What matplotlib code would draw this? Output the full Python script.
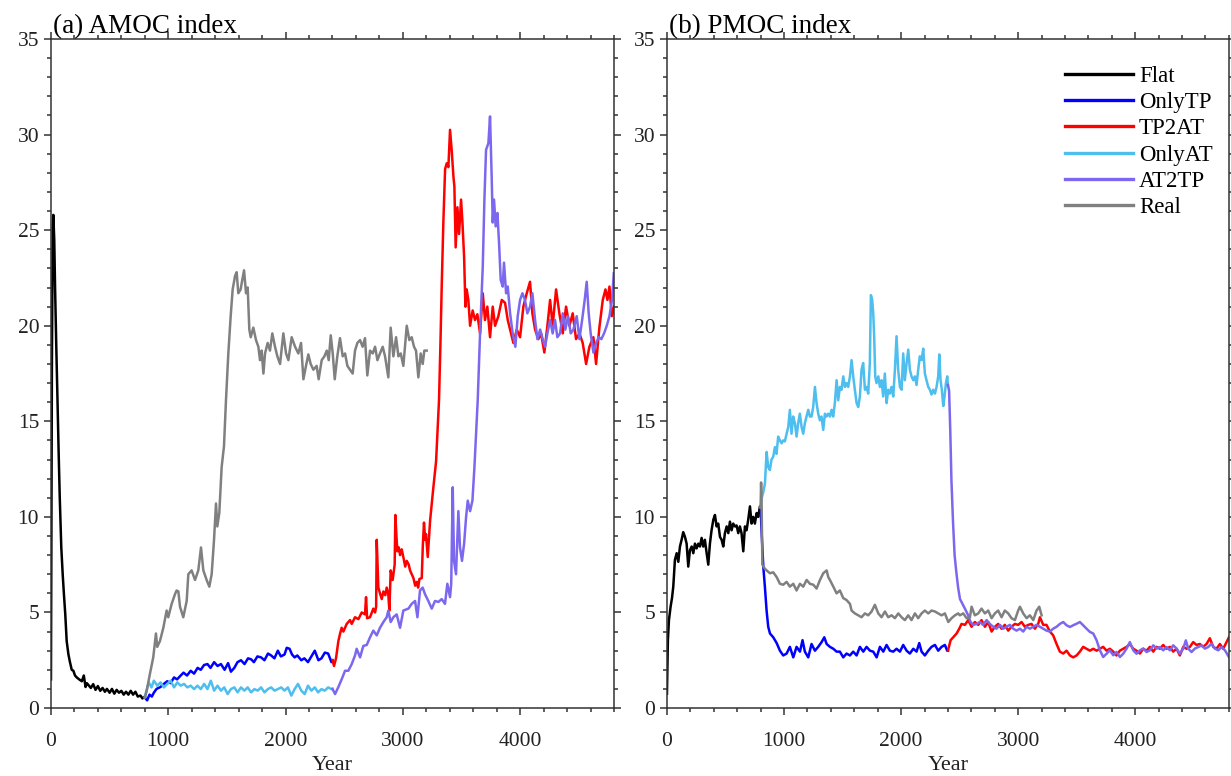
import matplotlib
matplotlib.use("Agg")
import matplotlib.pyplot as plt
from matplotlib.ticker import MultipleLocator

plt.rcParams['font.family'] = ['Liberation Serif', 'DejaVu Serif']

# ---- (a) AMOC index: (year, Sv) pairs ----
flat_a = [(0, 1.5), (8, 18.0), (15, 25.0), (20, 25.8), (28, 24.5), (35, 22.0), (45, 19.0),
          (55, 16.3), (65, 13.5), (75, 11.0), (88, 8.4), (100, 7.0), (110, 6.0), (122, 4.9),
          (134, 3.5), (149, 2.8), (162, 2.4), (177, 2.0), (191, 1.95), (205, 1.7), (220, 1.6),
          (240, 1.5), (263, 1.4), (280, 1.7), (295, 1.1), (306, 1.3), (320, 1.2), (340, 1.05),
          (360, 1.25), (380, 0.95), (400, 1.15), (420, 0.9), (440, 1.05), (460, 0.85), (477, 1.0),
          (500, 0.8), (520, 1.0), (540, 0.75), (560, 0.95), (580, 0.8), (600, 0.9), (620, 0.7),
          (640, 0.85), (660, 0.7), (680, 0.9), (700, 0.7), (720, 0.85), (740, 0.6), (763, 0.65),
          (780, 0.5), (800, 0.6)]

onlytp_a = [(800, 0.55), (820, 0.4), (840, 0.7), (860, 0.6), (877, 0.8), (900, 1.0), (934, 1.1),
            (960, 1.25), (991, 1.4), (1020, 1.3), (1049, 1.6), (1075, 1.5), (1106, 1.7), (1130, 1.85),
            (1160, 1.7), (1191, 1.95), (1220, 1.8), (1250, 2.1), (1277, 2.0), (1305, 2.25), (1334, 2.3),
            (1360, 2.1), (1391, 2.4), (1420, 2.2), (1449, 2.3), (1480, 2.0), (1510, 2.35), (1534, 1.9),
            (1563, 2.1), (1590, 2.4), (1620, 2.5), (1650, 2.3), (1680, 2.6), (1706, 2.55), (1730, 2.4),
            (1760, 2.7), (1791, 2.65), (1820, 2.5), (1850, 2.85), (1877, 2.75), (1905, 2.6), (1934, 3.0),
            (1960, 2.7), (1991, 2.8), (2010, 3.15), (2034, 3.1), (2055, 2.8), (2077, 2.65), (2100, 2.75),
            (2134, 2.5), (2160, 2.6), (2191, 2.4), (2220, 2.7), (2249, 3.0), (2280, 2.5), (2306, 2.6),
            (2335, 2.9), (2363, 2.85), (2391, 2.4), (2400, 2.5)]

tp2at_a = [(2400, 2.5), (2413, 2.2), (2430, 2.6), (2450, 3.5), (2465, 3.9), (2478, 4.2), (2493, 4.0),
           (2521, 4.4), (2550, 4.6), (2564, 4.4), (2592, 4.75), (2621, 4.65), (2649, 5.0), (2677, 4.9),
           (2686, 5.8), (2695, 4.7), (2720, 4.75), (2748, 5.2), (2763, 5.0), (2772, 5.3), (2777, 8.8),
           (2784, 7.5), (2791, 6.3), (2805, 6.0), (2820, 5.7), (2834, 6.1), (2850, 5.9), (2862, 6.3),
           (2875, 6.0), (2885, 5.1), (2896, 7.2), (2913, 6.7), (2930, 7.5), (2936, 10.1), (2945, 9.0),
           (2953, 8.2), (2965, 8.4), (2976, 8.0), (2990, 8.3), (3004, 7.9), (3020, 7.4), (3033, 7.7),
           (3050, 7.5), (3061, 7.2), (3075, 7.0), (3090, 6.8), (3105, 6.4), (3118, 6.6), (3130, 6.3),
           (3141, 6.75), (3161, 6.8), (3170, 8.5), (3180, 9.7), (3190, 8.8), (3197, 9.1), (3212, 7.9),
           (3232, 9.8), (3246, 10.7), (3260, 11.55), (3283, 12.9), (3294, 14.3), (3308, 16.1),
           (3320, 19.0), (3331, 22.05), (3345, 25.4), (3360, 28.2), (3374, 28.5), (3388, 28.3),
           (3402, 30.25), (3416, 29.2), (3431, 27.8), (3439, 27.3), (3450, 24.1), (3465, 26.2),
           (3479, 24.8), (3496, 26.6), (3507, 25.5), (3522, 23.6), (3533, 21.0), (3544, 21.9),
           (3558, 21.35), (3573, 20.0), (3595, 20.8), (3615, 20.3), (3635, 20.6), (3658, 19.6),
           (3681, 21.7), (3700, 20.3), (3720, 21.0), (3743, 19.4), (3766, 21.0), (3786, 20.0),
           (3814, 20.5), (3843, 21.35), (3871, 21.2), (3894, 20.3), (3914, 19.8), (3942, 19.1),
           (3971, 19.8), (3999, 19.4), (4027, 21.0), (4056, 21.7), (4084, 22.3), (4104, 20.65),
           (4127, 19.8), (4155, 19.3), (4178, 19.6), (4206, 18.6), (4232, 20.0), (4255, 21.35),
           (4277, 20.0), (4306, 21.9), (4334, 20.65), (4363, 19.6), (4391, 21.0), (4420, 20.0),
           (4448, 20.65), (4476, 19.3), (4505, 19.6), (4533, 19.1), (4562, 18.0), (4590, 18.9),
           (4624, 19.4), (4647, 18.0), (4675, 19.9), (4704, 21.35), (4727, 21.9), (4744, 21.35),
           (4761, 22.05), (4781, 20.5), (4800, 21.0)]

onlyat_a = [(800, 0.56), (814, 0.91), (834, 1.34), (857, 1.08), (877, 1.43), (906, 1.17), (934, 1.34),
            (963, 1.08), (991, 1.26), (1020, 1.43), (1049, 1.08), (1077, 1.34), (1106, 1.17), (1134, 1.26),
            (1163, 1.08), (1191, 1.17), (1220, 0.99), (1249, 1.17), (1277, 0.99), (1306, 1.26),
            (1334, 0.99), (1363, 1.43), (1391, 0.91), (1420, 1.17), (1449, 0.91), (1477, 1.08),
            (1506, 0.73), (1534, 0.99), (1563, 1.08), (1591, 0.82), (1620, 1.08), (1649, 0.91),
            (1677, 1.08), (1706, 0.82), (1734, 0.99), (1763, 0.91), (1791, 1.08), (1820, 0.82),
            (1849, 0.99), (1877, 1.08), (1906, 0.91), (1934, 0.99), (1963, 1.08), (1991, 0.91),
            (2020, 1.08), (2049, 0.65), (2077, 0.99), (2106, 1.26), (2134, 0.91), (2163, 0.73),
            (2191, 1.17), (2220, 0.91), (2249, 1.08), (2277, 0.82), (2306, 0.99), (2334, 0.91),
            (2363, 1.08), (2391, 0.99), (2400, 1.0)]

at2tp_a = [(2400, 1.0), (2422, 0.73), (2450, 1.1), (2478, 1.5), (2507, 1.95), (2535, 1.95), (2564, 2.3),
           (2592, 2.75), (2606, 3.1), (2635, 2.65), (2663, 3.25), (2692, 3.3), (2720, 3.7), (2748, 4.05),
           (2777, 3.8), (2805, 4.2), (2834, 4.5), (2862, 4.75), (2876, 5.1), (2896, 4.5), (2919, 4.75),
           (2947, 4.9), (2976, 4.2), (3004, 5.1), (3047, 5.2), (3075, 5.45), (3104, 5.6), (3124, 4.75),
           (3146, 6.15), (3169, 6.3), (3189, 5.95), (3217, 5.6), (3246, 5.2), (3274, 5.6), (3303, 5.55),
           (3331, 5.7), (3359, 5.45), (3379, 6.5), (3402, 5.8), (3412, 6.5), (3425, 11.55), (3436, 7.7),
           (3453, 7.0), (3473, 10.3), (3487, 8.4), (3504, 7.7), (3522, 8.6), (3539, 10.0), (3553, 10.85),
           (3573, 10.3), (3593, 10.85), (3610, 12.6), (3624, 14.35), (3638, 16.1), (3658, 19.6),
           (3681, 23.1), (3695, 26.6), (3709, 29.2), (3729, 29.55), (3743, 30.95), (3757, 27.8),
           (3766, 25.4), (3777, 26.6), (3791, 25.2), (3806, 25.9), (3820, 24.3), (3834, 22.4),
           (3851, 22.05), (3862, 23.3), (3880, 21.7), (3894, 22.05), (3914, 20.65), (3936, 19.6),
           (3959, 18.9), (3979, 20.5), (3999, 21.35), (4019, 21.7), (4041, 21.35), (4061, 20.65),
           (4084, 21.0), (4104, 21.7), (4127, 20.3), (4147, 19.3), (4170, 19.8), (4192, 19.3),
           (4212, 18.9), (4232, 19.6), (4255, 20.3), (4277, 19.6), (4297, 20.3), (4317, 19.4),
           (4340, 19.6), (4363, 20.65), (4385, 19.8), (4408, 20.5), (4431, 19.6), (4454, 19.8),
           (4482, 20.5), (4505, 19.3), (4528, 20.3), (4550, 21.35), (4567, 22.3), (4584, 20.65),
           (4601, 19.6), (4624, 18.6), (4647, 19.1), (4670, 19.4), (4692, 19.3), (4715, 19.6),
           (4738, 20.0), (4761, 20.5), (4783, 21.35), (4798, 22.75)]

real_a = [(800, 0.55), (816, 0.9), (844, 1.8), (872, 2.65), (895, 3.9), (906, 3.2), (929, 3.5),
          (958, 4.2), (986, 5.1), (1000, 4.75), (1029, 5.45), (1057, 5.95), (1071, 6.15), (1086, 6.1),
          (1100, 5.3), (1128, 4.75), (1157, 5.6), (1171, 7.0), (1199, 7.2), (1228, 6.7), (1256, 7.2),
          (1279, 8.4), (1299, 7.2), (1327, 6.7), (1350, 6.35), (1370, 7.0), (1390, 8.8), (1407, 10.7),
          (1418, 9.5), (1435, 10.2), (1455, 12.6), (1475, 13.7), (1492, 16.1), (1512, 18.55),
          (1532, 20.5), (1549, 21.9), (1569, 22.6), (1583, 22.8), (1597, 21.7), (1617, 21.9),
          (1631, 22.4), (1646, 22.9), (1663, 21.7), (1677, 22.0), (1691, 19.8), (1703, 19.4),
          (1725, 19.9), (1748, 19.25), (1768, 18.9), (1782, 18.2), (1796, 18.7), (1811, 17.5),
          (1825, 18.55), (1847, 19.1), (1867, 18.7), (1887, 19.6), (1910, 18.9), (1930, 18.4),
          (1953, 18.0), (1981, 19.6), (2004, 18.55), (2024, 18.2), (2052, 19.4), (2081, 18.9),
          (2109, 18.55), (2132, 19.1), (2152, 17.2), (2174, 17.9), (2194, 18.5), (2214, 18.0),
          (2237, 17.7), (2265, 17.9), (2282, 17.2), (2308, 18.2), (2331, 18.4), (2351, 18.7),
          (2368, 18.2), (2385, 19.5), (2402, 18.55), (2419, 17.2), (2441, 18.4), (2464, 19.35),
          (2487, 18.4), (2507, 18.55), (2527, 17.9), (2549, 17.7), (2572, 17.5), (2592, 18.7),
          (2612, 19.1), (2635, 19.25), (2657, 18.9), (2677, 19.35), (2697, 17.4), (2720, 18.7),
          (2743, 18.55), (2763, 18.9), (2783, 18.2), (2805, 18.55), (2828, 18.9), (2848, 18.4),
          (2876, 17.3), (2896, 19.9), (2919, 18.4), (2942, 19.4), (2962, 18.4), (2982, 18.55),
          (3004, 17.9), (3033, 20.0), (3055, 19.25), (3075, 19.4), (3095, 18.9), (3112, 18.7),
          (3132, 17.3), (3152, 18.55), (3169, 18.0), (3183, 18.7), (3203, 18.7)]

# ---- (b) PMOC index ----
flat_b = [(0, 0.75), (8, 3.55), (17, 4.6), (31, 5.3), (43, 5.75), (54, 6.35), (68, 7.75), (83, 8.1),
          (97, 7.65), (111, 8.45), (125, 8.8), (139, 9.2), (154, 8.95), (168, 8.6), (182, 7.4),
          (196, 8.25), (211, 8.45), (225, 8.1), (239, 8.6), (253, 8.35), (268, 8.6), (282, 8.45),
          (296, 8.9), (310, 8.45), (324, 8.8), (339, 8.1), (353, 7.5), (367, 8.6), (381, 9.3),
          (396, 9.85), (410, 10.1), (424, 9.5), (438, 9.65), (453, 8.95), (467, 8.8), (481, 8.45),
          (495, 9.15), (510, 9.5), (524, 9.15), (538, 9.75), (552, 9.3), (566, 9.65), (581, 9.5),
          (595, 9.55), (609, 9.15), (623, 9.5), (637, 9.15), (652, 8.2), (666, 9.5), (680, 9.3),
          (694, 9.85), (709, 10.55), (723, 9.65), (737, 10.0), (751, 9.65), (766, 10.2), (780, 10.0),
          (794, 10.55), (800, 10.5)]

onlytp_b = [(800, 10.5), (810, 9.0), (823, 7.4), (837, 6.3), (851, 5.1), (865, 4.25), (880, 3.9),
            (908, 3.7), (937, 3.4), (965, 3.0), (993, 2.75), (1022, 2.85), (1050, 3.2), (1079, 2.65),
            (1107, 3.2), (1136, 2.95), (1158, 3.55), (1178, 2.95), (1207, 2.65), (1235, 3.35),
            (1264, 3.0), (1292, 3.2), (1321, 3.45), (1344, 3.7), (1364, 3.35), (1392, 3.2), (1421, 3.1),
            (1449, 2.95), (1477, 2.95), (1506, 2.65), (1534, 2.85), (1563, 2.75), (1591, 2.95),
            (1620, 2.75), (1648, 3.2), (1677, 2.95), (1705, 3.2), (1734, 3.0), (1762, 2.95),
            (1791, 2.65), (1819, 3.2), (1848, 2.95), (1876, 3.3), (1904, 3.0), (1933, 2.95),
            (1961, 3.1), (1990, 2.95), (2018, 3.3), (2047, 3.0), (2075, 2.85), (2104, 3.1),
            (2132, 2.95), (2155, 3.4), (2175, 2.95), (2203, 2.75), (2232, 3.0), (2260, 3.2),
            (2289, 3.3), (2317, 3.0), (2346, 3.2), (2374, 3.3), (2394, 3.0), (2400, 3.0)]

tp2at_b = [(2400, 3.0), (2423, 3.55), (2445, 3.7), (2474, 3.9), (2497, 4.15), (2516, 4.4), (2545, 4.35),
           (2573, 4.6), (2602, 4.25), (2630, 4.5), (2659, 4.35), (2687, 4.6), (2716, 4.25), (2744, 4.5),
           (2773, 4.0), (2801, 4.25), (2829, 4.4), (2858, 4.15), (2886, 4.35), (2915, 4.05),
           (2943, 4.25), (2972, 4.4), (3000, 4.35), (3029, 4.5), (3057, 4.25), (3086, 4.35),
           (3114, 4.4), (3143, 4.15), (3171, 4.4), (3186, 4.75), (3214, 4.35), (3242, 4.35),
           (3271, 4.0), (3299, 3.8), (3328, 3.35), (3356, 2.95), (3385, 2.85), (3413, 3.0),
           (3442, 2.75), (3470, 2.65), (3499, 2.75), (3527, 2.95), (3555, 3.2), (3584, 3.1),
           (3613, 3.0), (3641, 3.1), (3670, 3.0), (3698, 3.1), (3726, 3.2), (3755, 3.0), (3783, 3.1),
           (3812, 2.95), (3840, 2.75), (3869, 3.0), (3897, 3.1), (3926, 3.2), (3954, 3.35),
           (3983, 3.1), (4011, 3.0), (4040, 2.85), (4068, 3.1), (4097, 3.0), (4125, 3.2), (4154, 2.95),
           (4182, 3.2), (4210, 3.1), (4239, 3.3), (4267, 3.1), (4296, 3.2), (4324, 2.95), (4353, 3.1),
           (4381, 2.75), (4410, 3.2), (4438, 3.1), (4467, 3.2), (4495, 3.45), (4523, 3.3), (4552, 3.35),
           (4580, 3.2), (4609, 3.35), (4637, 3.65), (4666, 3.2), (4694, 3.1), (4723, 3.35),
           (4751, 3.1), (4780, 3.45), (4800, 3.7)]

onlyat_b = [(800, 10.5), (810, 11.0), (823, 11.3), (837, 11.75), (851, 13.4), (865, 12.6), (879, 12.45),
            (893, 13.0), (908, 13.15), (922, 13.65), (936, 13.3), (950, 14.2), (965, 14.0), (979, 13.85),
            (993, 14.0), (1007, 13.95), (1022, 14.35), (1036, 14.7), (1050, 15.6), (1064, 14.35),
            (1078, 15.25), (1093, 14.9), (1107, 14.2), (1121, 14.9), (1135, 15.4), (1150, 14.7),
            (1164, 14.35), (1178, 14.9), (1192, 15.25), (1207, 15.6), (1221, 15.25), (1235, 15.25),
            (1249, 15.75), (1264, 16.8), (1278, 15.95), (1292, 15.4), (1306, 15.05), (1320, 15.25),
            (1335, 14.55), (1349, 15.4), (1363, 15.25), (1377, 15.4), (1392, 15.25), (1406, 15.6),
            (1420, 15.25), (1434, 15.95), (1449, 17.15), (1463, 16.1), (1477, 16.8), (1491, 16.65),
            (1506, 17.35), (1520, 16.8), (1534, 17.0), (1548, 16.8), (1563, 17.35), (1577, 18.2),
            (1591, 17.35), (1605, 16.65), (1620, 15.95), (1634, 15.75), (1648, 16.3), (1662, 17.7),
            (1676, 18.05), (1691, 16.65), (1705, 16.8), (1719, 16.45), (1733, 18.05), (1742, 21.6),
            (1753, 21.35), (1762, 20.65), (1770, 19.45), (1779, 17.35), (1790, 17.0), (1805, 17.35),
            (1819, 16.8), (1833, 17.15), (1847, 16.3), (1861, 17.5), (1876, 15.95), (1890, 16.65),
            (1904, 16.45), (1918, 16.8), (1933, 16.3), (1947, 17.7), (1961, 19.45), (1975, 17.7),
            (1990, 16.8), (2004, 16.65), (2018, 18.55), (2032, 17.15), (2047, 18.05), (2061, 18.75),
            (2075, 17.7), (2089, 17.35), (2104, 17.15), (2118, 17.35), (2132, 16.9), (2146, 17.7),
            (2160, 18.4), (2175, 18.2), (2189, 18.8), (2203, 17.5), (2217, 17.15), (2232, 16.8),
            (2246, 16.65), (2260, 16.4), (2274, 16.65), (2289, 16.45), (2303, 16.8), (2317, 17.35),
            (2326, 18.5), (2337, 17.15), (2348, 16.65), (2360, 15.8), (2371, 16.3), (2383, 17.0),
            (2394, 17.35), (2400, 16.9)]

at2tp_b = [(2400, 16.9), (2410, 16.6), (2420, 14.5), (2430, 11.9), (2443, 9.8), (2457, 8.0), (2470, 7.2),
           (2487, 6.3), (2503, 5.7), (2520, 5.5), (2545, 5.2), (2573, 4.85), (2593, 4.5), (2616, 4.35),
           (2645, 4.4), (2673, 4.5), (2701, 4.35), (2730, 4.6), (2758, 4.4), (2787, 4.25), (2815, 4.15),
           (2844, 4.35), (2872, 4.15), (2901, 4.25), (2929, 4.35), (2958, 4.15), (2986, 4.05),
           (3015, 4.15), (3043, 4.0), (3072, 4.25), (3100, 4.15), (3129, 4.25), (3157, 4.35),
           (3186, 4.25), (3214, 4.15), (3242, 4.05), (3271, 4.0), (3299, 4.15), (3328, 4.25),
           (3356, 4.4), (3385, 4.5), (3413, 4.33), (3442, 4.24), (3470, 4.33), (3499, 4.41),
           (3527, 4.5), (3555, 4.33), (3584, 4.15), (3613, 3.98), (3641, 3.9), (3670, 3.54),
           (3698, 3.02), (3726, 2.67), (3755, 2.84), (3783, 3.02), (3812, 2.76), (3840, 2.93),
           (3869, 2.67), (3897, 2.84), (3926, 3.11), (3954, 3.45), (3983, 3.02), (4011, 2.84),
           (4040, 3.02), (4068, 3.11), (4097, 2.93), (4125, 3.02), (4154, 3.28), (4182, 3.11),
           (4210, 3.19), (4239, 3.02), (4267, 3.19), (4296, 3.02), (4324, 3.28), (4353, 3.11),
           (4381, 2.84), (4410, 3.11), (4432, 3.54), (4452, 3.11), (4481, 2.93), (4509, 3.11),
           (4538, 3.19), (4566, 3.28), (4595, 3.11), (4623, 3.19), (4652, 3.37), (4680, 3.11),
           (4709, 3.02), (4737, 3.19), (4766, 3.02), (4800, 2.67)]

real_b = [(800, 10.5), (804, 11.8), (809, 10.5), (815, 7.5), (835, 7.3), (851, 7.2), (880, 7.05),
          (908, 7.1), (937, 6.85), (965, 6.5), (993, 6.45), (1022, 6.6), (1050, 6.35), (1079, 6.5),
          (1107, 6.15), (1136, 6.5), (1164, 6.35), (1193, 6.7), (1221, 6.5), (1250, 6.45), (1278, 6.25),
          (1307, 6.7), (1335, 7.05), (1364, 7.2), (1378, 6.85), (1392, 6.7), (1421, 6.35), (1449, 6.0),
          (1477, 6.15), (1506, 5.75), (1534, 5.65), (1563, 5.45), (1577, 5.1), (1605, 4.95),
          (1634, 4.85), (1662, 4.75), (1691, 4.95), (1719, 4.85), (1748, 5.05), (1776, 5.4),
          (1805, 4.95), (1833, 4.75), (1862, 5.05), (1890, 4.75), (1919, 4.85), (1947, 4.7),
          (1976, 4.95), (2004, 4.75), (2032, 4.6), (2061, 4.85), (2089, 4.6), (2118, 4.95),
          (2146, 4.7), (2175, 4.95), (2203, 5.1), (2232, 4.95), (2260, 5.1), (2289, 5.05),
          (2317, 4.95), (2346, 4.85), (2374, 4.95), (2403, 4.5), (2431, 4.7), (2460, 4.85),
          (2488, 4.95), (2502, 4.85), (2531, 4.95), (2559, 4.7), (2588, 4.75), (2602, 5.3),
          (2630, 4.85), (2659, 4.95), (2687, 5.2), (2716, 4.95), (2744, 5.1), (2773, 4.7),
          (2801, 4.95), (2829, 5.1), (2858, 4.75), (2886, 5.1), (2915, 4.95), (2943, 4.7),
          (2972, 4.6), (3000, 5.1), (3015, 5.3), (3043, 4.95), (3072, 4.7), (3100, 4.85),
          (3129, 4.6), (3157, 5.1), (3180, 5.3), (3200, 4.85)]

names = ['Flat', 'OnlyTP', 'TP2AT', 'OnlyAT', 'AT2TP', 'Real']
colors = ['#000000', '#0000ff', '#ff0000', '#4dbeee', '#7b68ee', '#808080']
series_a = [flat_a, onlytp_a, tp2at_a, onlyat_a, at2tp_a, real_a]
series_b = [flat_b, onlytp_b, tp2at_b, onlyat_b, at2tp_b, real_b]

fig = plt.figure(figsize=(12.31, 7.76), dpi=100)
ax_a = fig.add_axes([0.0414, 0.0876, 0.4574, 0.8621])
ax_b = fig.add_axes([0.5418, 0.0876, 0.4565, 0.8621])


def style(ax, title):
    ax.set_xlim(0, 4800)
    ax.set_ylim(0, 35)
    ax.xaxis.set_major_locator(MultipleLocator(1000))
    ax.xaxis.set_minor_locator(MultipleLocator(200))
    ax.yaxis.set_major_locator(MultipleLocator(5))
    ax.yaxis.set_minor_locator(MultipleLocator(1))
    ax.tick_params(which='both', direction='out', top=True, right=True,
                   width=1.1, color='#333333', labelsize=15.5, labelcolor='#222222')
    ax.tick_params(which='major', length=5)
    ax.tick_params(which='minor', length=2.6)
    ax.tick_params(axis='x', which='major', pad=12)
    for s in ax.spines.values():
        s.set_linewidth(1.1)
        s.set_color('#333333')
    ax.set_xlabel('Year', fontsize=16, labelpad=4, color='#222222')
    ax.set_title(title, loc='left', fontsize=19.5, pad=2, x=0.003)


for ax, series, title in [(ax_a, series_a, '(a) AMOC index'), (ax_b, series_b, '(b) PMOC index')]:
    for name, col, data in zip(names, colors, series):
        yrs = [p[0] for p in data]
        vals = [p[1] for p in data]
        ax.plot(yrs, vals, color=col, lw=1.8, label=name)
    style(ax, title)

leg = ax_b.legend(loc='upper left', bbox_to_anchor=(0.708, 0.96), frameon=False, fontsize=16.5,
                  handlelength=2.97, handletextpad=0.26, labelspacing=0.23, borderpad=0,
                  borderaxespad=0)
for h in leg.get_lines():
    h.set_linewidth(2.4)

fig.savefig('out.png', dpi=100)
